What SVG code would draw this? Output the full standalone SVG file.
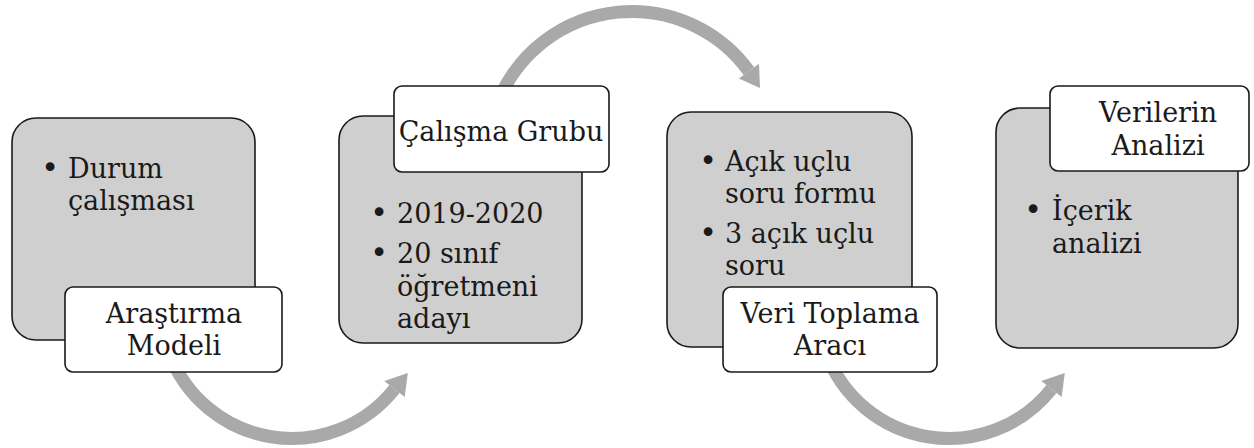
<svg xmlns="http://www.w3.org/2000/svg" width="1254" height="448" viewBox="0 0 1254 448">
<style>
.box{fill:#cfcfcf;stroke:#1a1a1a;stroke-width:1.6}
.lbl{fill:#ffffff;stroke:#1a1a1a;stroke-width:1.6}
.t{font-family:"DejaVu Serif","Liberation Serif",serif;font-size:27px;fill:#1a1a1a}
.b{font-family:"DejaVu Sans","Liberation Sans",sans-serif;font-size:30px;fill:#1a1a1a;text-anchor:middle}
.c{text-anchor:middle}
.arc{fill:none;stroke:#a9a9a9;stroke-width:13;stroke-linecap:butt}
.head{fill:#a9a9a9}
</style>
<rect width="1254" height="448" fill="#ffffff"/>
<g id="connectors">
<path class="arc" d="M168.9,352.3 A131,131 0 0 0 394.5,389"/>
<polygon class="head" points="407.8,373 384.3,381 404.7,397.1"/>
<path class="arc" d="M501,94.9 A144.5,144.5 0 0 1 748.9,71.1"/>
<polygon class="head" points="760,87.9 738.8,78.4 759,63.7"/>
<path class="arc" d="M825.9,352.3 A131,131 0 0 0 1051.5,389"/>
<polygon class="head" points="1064.8,373 1041.3,381 1061.7,397.1"/>
</g>
<g id="node1">
<rect class="box" x="12" y="118" width="243" height="222" rx="24"/>
<text class="b" x="50" y="178">•</text>
<text class="t" x="68" y="178">Durum</text>
<text class="t" x="68" y="210">çalışması</text>
</g>
<g id="label1">
<rect class="lbl" x="65" y="287" width="217" height="85" rx="8"/>
<text class="t c" x="174" y="323">Araştırma</text>
<text class="t c" x="174" y="355">Modeli</text>
</g>
<g id="node2">
<rect class="box" x="339" y="116" width="243" height="227" rx="24"/>
<text class="b" x="379" y="223">•</text>
<text class="t" x="397" y="223">2019-2020</text>
<text class="b" x="379" y="263">•</text>
<text class="t" x="397" y="263">20 sınıf</text>
<text class="t" x="397" y="296">öğretmeni</text>
<text class="t" x="397" y="328">adayı</text>
</g>
<g id="label2">
<rect class="lbl" x="394" y="86" width="215" height="86" rx="8"/>
<text class="t c" x="501" y="141">Çalışma Grubu</text>
</g>
<g id="node3">
<rect class="box" x="667" y="112" width="245" height="235" rx="24"/>
<text class="b" x="708" y="171">•</text>
<text class="t" x="725" y="171">Açık uçlu</text>
<text class="t" x="725" y="203">soru formu</text>
<text class="b" x="708" y="243">•</text>
<text class="t" x="725" y="243">3 açık uçlu</text>
<text class="t" x="725" y="275">soru</text>
</g>
<g id="label3">
<rect class="lbl" x="723" y="287" width="214" height="85" rx="8"/>
<text class="t c" x="830" y="323">Veri Toplama</text>
<text class="t c" x="830" y="355">Aracı</text>
</g>
<g id="node4">
<rect class="box" x="996" y="108" width="242" height="240" rx="24"/>
<text class="b" x="1033" y="220">•</text>
<text class="t" x="1052" y="220">İçerik</text>
<text class="t" x="1052" y="253">analizi</text>
</g>
<g id="label4">
<rect class="lbl" x="1050" y="86" width="199" height="85" rx="8"/>
<text class="t c" x="1158" y="122">Verilerin</text>
<text class="t c" x="1158" y="155">Analizi</text>
</g>
</svg>
